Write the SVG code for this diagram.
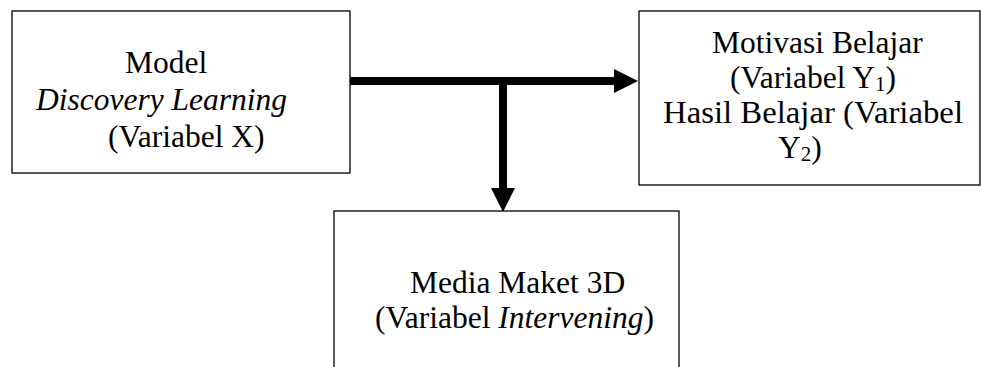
<svg xmlns="http://www.w3.org/2000/svg" width="981" height="367" viewBox="0 0 981 367">
<style>
.box{fill:#fff;stroke:#000;stroke-width:1.3}
.t{font-family:"Liberation Serif","Times New Roman",serif;font-size:31.5px;fill:#000}
.i{font-style:italic}
.sub{font-size:21px}
.conn{stroke:#000;stroke-width:8;fill:none}
</style>
<defs>
<marker id="ah" viewBox="0 0 24 24" markerWidth="24" markerHeight="24" markerUnits="userSpaceOnUse" refX="0" refY="12" orient="auto">
<path d="M0,0 L24,12 L0,24 z" fill="#000"/>
</marker>
</defs>
<g id="connectors">
<line class="conn" x1="350" y1="81" x2="614" y2="81" marker-end="url(#ah)"/>
<line class="conn" x1="503" y1="77" x2="503" y2="188" marker-end="url(#ah)"/>
</g>
<g id="node-x">
<rect class="box" x="12" y="11" width="338" height="162"/>
<text class="t" x="125" y="73">Model</text>
<text class="t i" x="36" y="110">Discovery Learning</text>
<text class="t" x="108" y="147">(Variabel X)</text>
</g>
<g id="node-y">
<rect class="box" x="639" y="11" width="341" height="174"/>
<text class="t" x="712" y="53">Motivasi Belajar</text>
<text class="t" x="730" y="88">(Variabel Y<tspan class="sub" dy="3">1</tspan><tspan dy="-3">)</tspan></text>
<text class="t" x="663" y="123" textLength="300" lengthAdjust="spacingAndGlyphs">Hasil Belajar (Variabel</text>
<text class="t" x="778" y="158">Y<tspan class="sub" dy="3">2</tspan><tspan dy="-3">)</tspan></text>
</g>
<g id="node-media">
<rect class="box" x="334" y="211" width="345" height="170"/>
<text class="t" x="410" y="293">Media Maket 3D</text>
<text class="t" x="375" y="328">(Variabel <tspan class="i">Intervening</tspan>)</text>
</g>
</svg>
